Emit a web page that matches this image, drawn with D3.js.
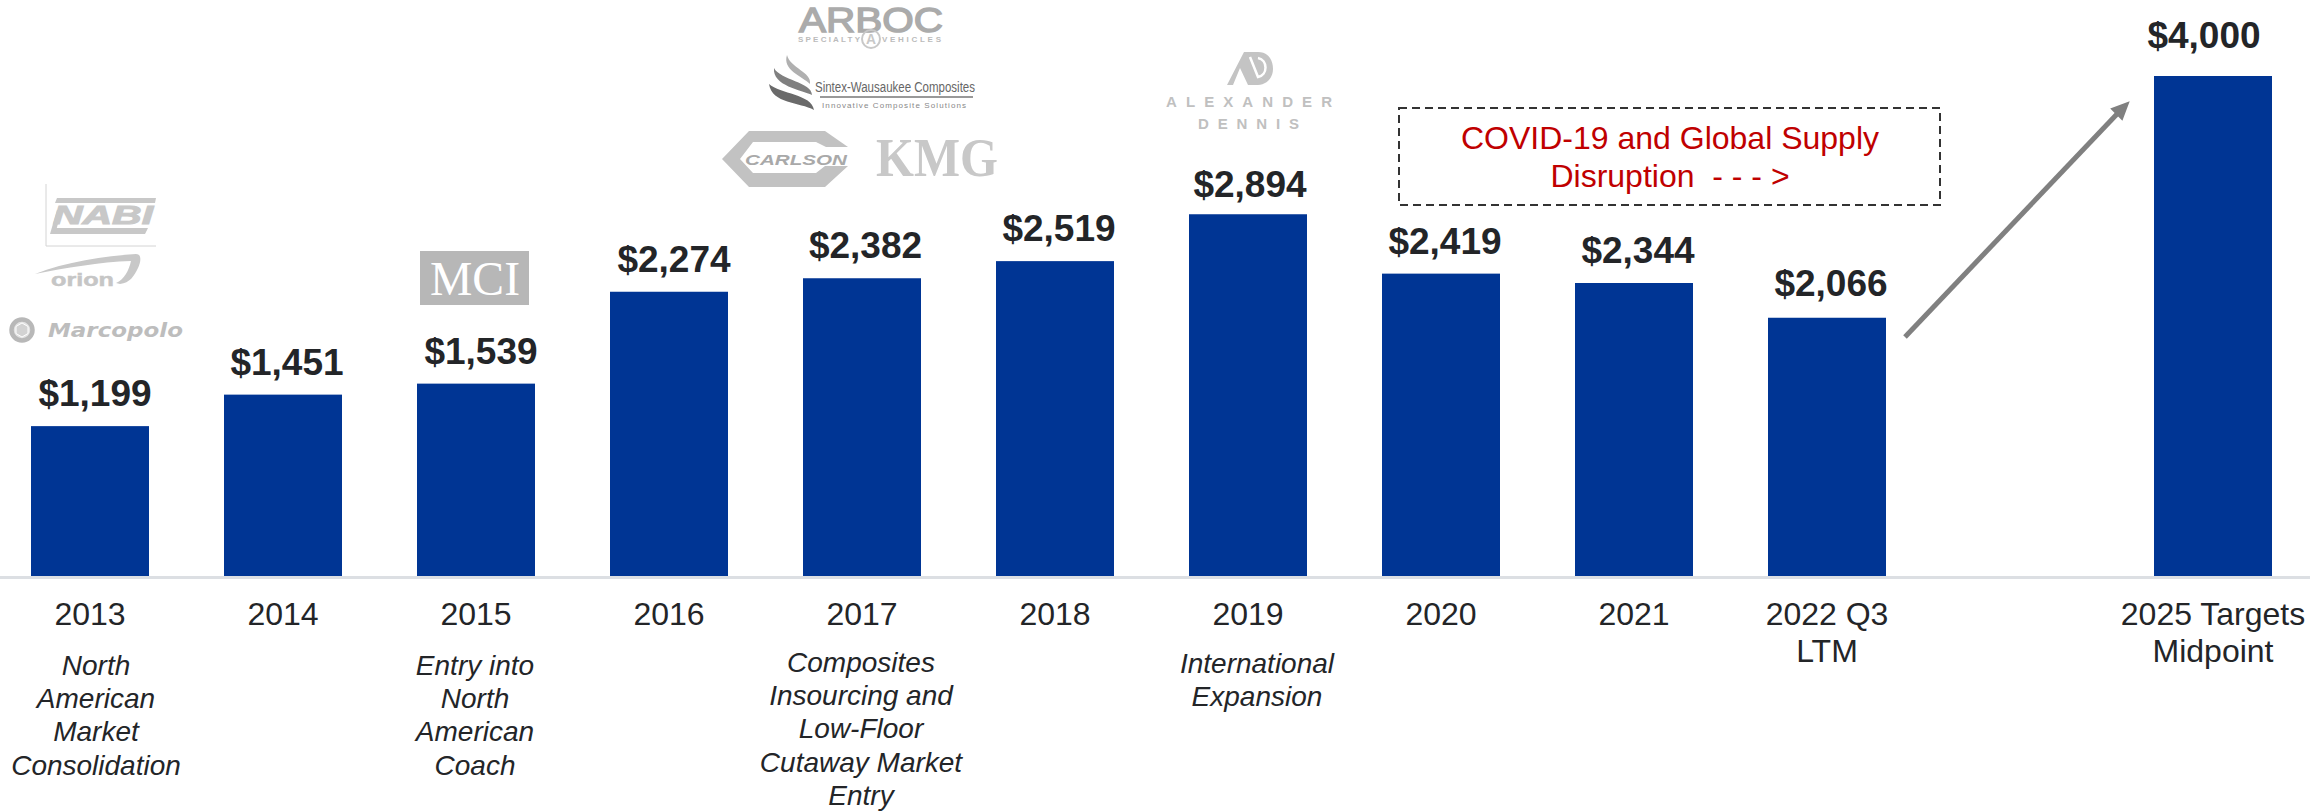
<!DOCTYPE html>
<html lang="en">

<head>
    <meta charset="utf-8">
    <title>Revenue by year</title>
    <script src="https://d3js.org/d3.v7.min.js"></script>
    <style>
        html, body { margin: 0; padding: 0; background: #fff; overflow: hidden; }
        svg { display: block; }
        text { font-family: "Liberation Sans", Arial, sans-serif; }
    </style>
</head>

<body>
    <script type="text/javascript">

        var w = 2310;
        var h = 811;

        var categories = ["2013", "2014", "2015", "2016", "2017", "2018", "2019", "2020", "2021", "2022 Q3 LTM", "gap", "2025 Targets Midpoint"];
        var values = [1199, 1451, 1539, 2274, 2382, 2519, 2894, 2419, 2344, 2066, null, 4000];
        var tickLabels = [["2013"], ["2014"], ["2015"], ["2016"], ["2017"], ["2018"], ["2019"], ["2020"], ["2021"], ["2022 Q3", "LTM"], [], ["2025 Targets", "Midpoint"]];
        var notes = [
            ["North", "American", "Market", "Consolidation"],
            [],
            ["Entry into", "North", "American", "Coach"],
            [],
            ["Composites", "Insourcing and", "Low-Floor", "Cutaway Market", "Entry"],
            [],
            ["International", "Expansion"],
            [], [], [], [], []
        ];
        var calloutLines = ["COVID-19 and Global Supply", "Disruption  - - - >"];

        // hand placement, the labels in the original are not centred on the bars
        var labelShift = [5, 4, 5, 5, 3.5, 4, 2, 4, 4, 4, 0, -9];
        var labelGap = [20, 20, 20, 20, 20, 20, 17, 20, 20, 22, 0, 28];
        var noteShift = [6, 0, -1, 0, -1, 0, 9, 0, 0, 0, 0, 0];
        var noteTop = [675, 0, 675, 0, 672, 0, 673, 0, 0, 0, 0, 0];

        var ink = "#232528";
        var logoGrey = "#bfbfbf";

        var svg = d3.select("body")
            .append("svg")
            .attr("width", w)
            .attr("height", h);

        var x = d3.scaleBand()
            .domain(categories)
            .range([-6.5, 2309.5])
            .paddingInner(0.3886)
            .paddingOuter(0.1943);

        var y = d3.scaleLinear()
            .domain([0, 4000])
            .range([576, 76]);

        var rows = categories.map(function (c, i) {
            return { cat: c, value: values[i], i: i };
        }).filter(function (d) { return d.value !== null; });

        svg.selectAll("rect.bar")
            .data(rows)
            .enter()
            .append("rect")
            .attr("class", "bar")
            .attr("x", function (d) { return x(d.cat); })
            .attr("y", function (d) { return y(d.value); })
            .attr("width", x.bandwidth())
            .attr("height", function (d) { return y(0) - y(d.value); })
            .attr("fill", "#003594");

        var axis = svg.append("g")
            .attr("transform", "translate(0,577)")
            .call(d3.axisBottom(x)
                .tickValues(categories.filter(function (c) { return c !== "gap"; }))
                .tickSize(0));

        axis.select(".domain")
            .attr("stroke", "#dcdfe3")
            .attr("stroke-width", 3);

        axis.selectAll(".tick text")
            .attr("font-size", 32)
            .attr("font-family", null)
            .attr("fill", ink)
            .attr("dy", 0)
            .attr("y", 48)
            .text(null)
            .selectAll("tspan")
            .data(function (c) { return tickLabels[categories.indexOf(c)]; })
            .enter()
            .append("tspan")
            .attr("x", 0)
            .attr("dy", function (d, i) { return i === 0 ? 0 : 37; })
            .text(function (d) { return d; });

        svg.selectAll("text.value")
            .data(rows)
            .enter()
            .append("text")
            .attr("class", "value")
            .attr("x", function (d) { return x(d.cat) + x.bandwidth() / 2 + labelShift[d.i]; })
            .attr("y", function (d) { return y(d.value) - labelGap[d.i]; })
            .attr("text-anchor", "middle")
            .attr("font-size", 37)
            .attr("font-weight", "bold")
            .attr("fill", ink)
            .text(function (d) { return d3.format("$,")(d.value); });

        var noteGroups = svg.selectAll("text.note")
            .data(rows.filter(function (d) { return notes[d.i].length > 0; }))
            .enter()
            .append("text")
            .attr("class", "note")
            .attr("text-anchor", "middle")
            .attr("font-size", 28)
            .attr("font-style", "italic")
            .attr("fill", ink)
            .attr("y", function (d) { return noteTop[d.i]; });

        noteGroups.selectAll("tspan")
            .data(function (d) {
                return notes[d.i].map(function (t) { return { t: t, row: d }; });
            })
            .enter()
            .append("tspan")
            .attr("x", function (d) { return x(d.row.cat) + x.bandwidth() / 2 + noteShift[d.row.i]; })
            .attr("dy", function (d, i) { return i === 0 ? 0 : 33.2; })
            .text(function (d) { return d.t; });

        // callout box
        svg.append("rect")
            .attr("x", 1399)
            .attr("y", 108)
            .attr("width", 541)
            .attr("height", 97)
            .attr("fill", "none")
            .attr("stroke", "#333")
            .attr("stroke-width", 2)
            .attr("stroke-dasharray", "8,5");

        svg.selectAll("text.callout")
            .data(calloutLines)
            .enter()
            .append("text")
            .attr("class", "callout")
            .attr("x", 1670)
            .attr("y", function (d, i) { return 149 + i * 38; })
            .attr("text-anchor", "middle")
            .attr("font-size", 32)
            .attr("fill", "#c00000")
            .style("white-space", "pre")
            .text(function (d) { return d; });

        // growth arrow
        svg.append("line")
            .attr("x1", 1905)
            .attr("y1", 337)
            .attr("x2", 2118)
            .attr("y2", 113)
            .attr("stroke", "#808080")
            .attr("stroke-width", 5);

        svg.append("path")
            .attr("d", "M2128,103 L2112,109 L2122,119 Z")
            .attr("fill", "#808080")
            .attr("stroke", "#808080")
            .attr("stroke-width", 2);

        function logoText(str, xp, yp, size, len, opts) {
            opts = opts || {};
            return svg.append("text")
                .attr("x", xp)
                .attr("y", yp)
                .attr("font-size", size)
                .attr("font-weight", opts.weight || "normal")
                .attr("font-style", opts.style || "normal")
                .attr("fill", opts.fill || logoGrey)
                .attr("stroke", opts.stroke || "none")
                .attr("stroke-width", opts.sw || 0)
                .attr("textLength", len)
                .attr("lengthAdjust", opts.adjust || "spacingAndGlyphs")
                .style("font-family", opts.family || null)
                .text(str);
        }

        function logoPath(d, fill, stroke, sw) {
            return svg.append("path")
                .attr("d", d)
                .attr("fill", fill)
                .attr("stroke", stroke || "none")
                .attr("stroke-width", sw || 0);
        }

        // NABI
        logoPath("M46,184 V246 H156", "none", "#d4d4d4", 1);
        logoPath("M57,198 H156 L155,203 H55 Z M53,228 H148 L145,234 H50 Z M50,234 L57,210 L62,210 L55,234 Z", "#c8c8c8");
        logoText("NABI", 53, 224, 25, 100, { weight: "bold", style: "italic", fill: "#c8c8c8", stroke: "#c8c8c8", sw: 1 });

        // Orion
        logoPath("M35,274 C65,262 105,256 136,254 C142,254 141,262 138,268 C134,276 130,283 120,284 L116,283 C124,280 129,270 131,261 C100,262 65,268 35,274 Z", "#c8c8c8");
        logoText("orion", 51, 286, 19, 63, { weight: "bold", fill: "#c6c6c6", stroke: "#c6c6c6", sw: 0.5 });

        // Marcopolo
        svg.append("circle").attr("cx", 22).attr("cy", 330).attr("r", 10.5)
            .attr("fill", "#e2e2e2").attr("stroke", "#b8b8b8").attr("stroke-width", 4.5);
        logoPath("M22,323 L28,326.5 V333.5 L22,337 L16,333.5 V326.5 Z", "#d2d2d2", "#fff", 1);
        logoText("Marcopolo", 48, 337, 19, 135, { weight: "bold", style: "italic", fill: "#bdbdbd", family: "DejaVu Sans" });

        // MCI
        svg.append("rect").attr("x", 420).attr("y", 251).attr("width", 109).attr("height", 54).attr("fill", "#b7b7b7");
        logoText("MCI", 430, 295, 48, 90, { fill: "#fff", family: "Liberation Serif" });

        // ARBOC
        logoText("ARBOC", 799, 32, 35, 144, { fill: "#ababab", stroke: "#ababab", sw: 1.4 });
        logoText("SPECIALTY", 798, 42, 8, 62, { fill: "#bbb", adjust: "spacing", weight: "bold" });
        logoText("VEHICLES", 882, 42, 8, 59, { fill: "#bbb", adjust: "spacing", weight: "bold" });
        svg.append("circle").attr("cx", 871).attr("cy", 39).attr("r", 9)
            .attr("fill", "none").attr("stroke", "#c8c8c8").attr("stroke-width", 2);
        logoText("A", 866, 44, 14, 10, { weight: "bold", fill: "#c8c8c8" });

        // Sintex-Wausaukee
        logoPath("M787,55 C790,68 812,72 810,84 C802,76 782,70 787,55 Z", "#b0b0b0");
        logoPath("M774,68 C780,80 812,82 812,95 C802,90 772,86 774,68 Z", "#808080");
        logoPath("M769,84 C780,94 812,94 814,110 C800,102 772,104 769,84 Z", "#6a6a6a");
        logoText("Sintex-Wausaukee Composites", 815, 92, 14, 160, { fill: "#666" });
        logoPath("M820,97 H973", "none", "#999", 2);
        logoText("Innovative Composite Solutions", 822, 108, 8, 144, { fill: "#888", adjust: "spacing" });

        // Carlson
        logoPath("M722,159 L749,131 L825,131 L848,147 L826,147 L816,142 L753,142 L740,159 L753,173 L816,173 L825,166 L848,166 L825,187 L749,187 Z", "#c2c2c2");
        logoText("CARLSON", 745, 165, 14, 102, { weight: "bold", style: "italic", fill: "#a9a9a9" });

        // KMG
        logoText("KMG", 876, 176, 54, 122, { fill: "#c8c8c8", family: "Liberation Serif", weight: "bold" });

        // Alexander Dennis
        logoPath("M1227,85 L1244,52 L1258,52 C1269,52 1273,61 1273,69 C1273,78 1266,85 1258,85 L1248,85 L1240,68 L1233,85 Z", "#c4c4c4");
        logoPath("M1250,57 L1258,77 C1268,75 1268,60 1258,58", "none", "#fff", 2.5);
        logoText("ALEXANDER", 1166, 107, 15, 166, { fill: "#c0c0c0", adjust: "spacing", weight: "bold" });
        logoText("DENNIS", 1198, 129, 15, 101, { fill: "#c0c0c0", adjust: "spacing", weight: "bold" });

    </script>
</body>

</html>
